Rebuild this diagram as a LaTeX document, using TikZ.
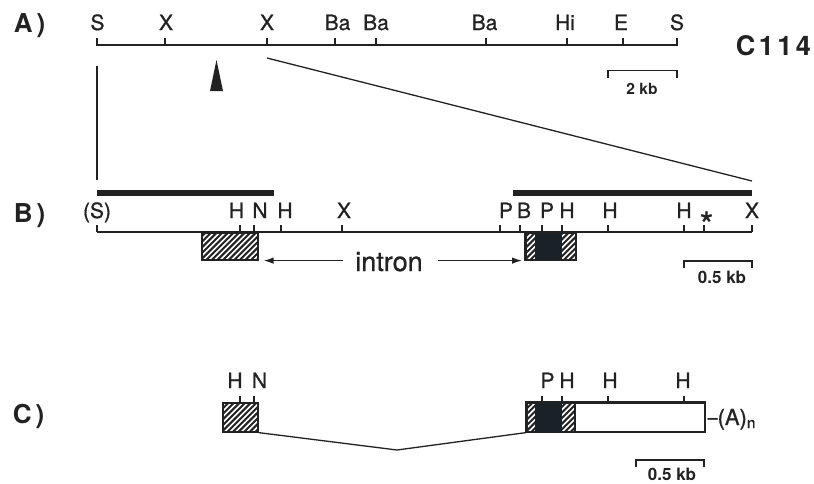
\documentclass[tikz,border=0pt]{standalone}
\usepackage{fontspec}
\setmainfont{TeX Gyre Heros}
\newfontfamily\lblfont{TeX Gyre Heros}[FakeBold=0.8,Ligatures=TeX]
\usetikzlibrary{arrows.meta}
\definecolor{ink}{HTML}{222222}
\definecolor{exonink}{HTML}{1B2227}
% hatched rectangle: #1,#2 = upper-left x,y ; #3,#4 = lower-right x,y
\newcommand{\hatchrect}[4]{%
  \begin{scope}
    \clip (#1,#2) rectangle (#3,#4);
    \foreach \k in {0,5.6,...,110}{
      \draw[hatchline] (#1-35+\k,#4+2) -- ++(36,-36);
    }
  \end{scope}}
\begin{document}
\begin{tikzpicture}[x=1pt,y=-1pt,line width=1.6pt,draw=ink,
  rlbl/.style={font=\lblfont\fontsize{21}{23}\selectfont, inner sep=0pt, anchor=base, text=ink},
  plbl/.style={font=\fontsize{26}{28}\selectfont\bfseries, inner sep=0pt, anchor=base west, text=ink},
  kblbl/.style={font=\fontsize{17}{19}\selectfont\bfseries, inner sep=0pt, anchor=base, text=ink},
  mapline/.style={line width=1.8pt},
  tickmark/.style={line width=1.6pt},
  zoomline/.style={line width=1.3pt},
  bar/.style={line width=6pt, draw=ink},
  hatchline/.style={line width=2pt, draw=ink},
  exon/.style={draw=ink, line width=1.6pt, rectangle, inner sep=0pt, anchor=north west},
  arr/.style={line width=1.3pt, -{Latex[length=10pt,width=6.5pt]}},
]
\useasboundingbox (0,0) rectangle (814,483);

% ---------------- Panel A ----------------
\node[plbl] (pA) at (13,32) {A\kern4pt)};
\coordinate (As) at (97,45);
\coordinate (Ae) at (677,45);
\draw[mapline] (As) -- (Ae);
\foreach \x in {97,165,267,335,376,486,567,623,677}{
  \draw[tickmark] (\x,45.5) -- (\x,38);
}
\foreach \x/\t [count=\i] in {97.5/S,166/X,267/X,337.5/Ba,376/Ba,484.5/Ba,565/Hi,621/E,677/S}{
  \node[rlbl] (a\i) at (\x,30) {\t};
}
\node[plbl, font=\fontsize{27}{29}\selectfont\bfseries] (c114) at (735,55) {C\kern3.5pt1\kern3.5pt1\kern3.5pt4};
% scale bar 2 kb
\coordinate (sa1) at (608,70.5);
\coordinate (sa2) at (677,70.5);
\draw[tickmark] ([yshift=-7pt]sa1) -- (sa1) -- (sa2) -- ([yshift=-7pt]sa2);
\node[kblbl, font=\fontsize{15.5}{17}\selectfont\bfseries] (kbA) at (642,94) {2 kb};
% arrowhead marker
\fill[ink] (210,91) -- (216.5,60) -- (223,91) -- cycle;
% zoom lines
\coordinate (zl1) at (97,66);
\coordinate (zl2) at (97,180);
\coordinate (zr1) at (267,58);
\coordinate (zr2) at (752,181);
\draw[zoomline] (zl1) -- (zl2);
\draw[zoomline] (zr1) -- (zr2);

% ---------------- Panel B ----------------
\node[plbl] (pB) at (13,222) {B\kern4pt)};
\draw[bar] (97,193) -- (274,193);
\draw[bar] (513,193) -- (752,193);
\coordinate (Bs) at (97,232);
\coordinate (Be) at (752,232);
\draw[mapline] (Bs) -- (Be);
\foreach \x in {97,240,254,281,342,500,520,542,562,608,684,704,752}{
  \draw[tickmark] (\x,232) -- (\x,225);
}
\foreach \x/\t [count=\i] in {97/(S),236.5/H,260/N,285/H,344/X,506/P,524/B,547/P,567/H,610/H,684/H,752/X}{
  \node[rlbl] (b\i) at (\x,218) {\t};
}
\node[rlbl, font=\fontsize{34}{34}\selectfont\bfseries] (star) at (707,236) {*};
% exons
\hatchrect{201}{232}{257}{259}
\node[exon, minimum width=56pt, minimum height=27pt] (ex1) at (201,232) {};
\hatchrect{525}{232}{575}{259}
\node[exon, minimum width=50pt, minimum height=27pt] (ex2) at (525,232) {};
\fill[exonink] ([xshift=10pt]ex2.north west) rectangle ([xshift=37pt]ex2.south west);
\draw[line width=1.6pt] (ex2.north west) rectangle (ex2.south east);
% intron label and arrows
\node[inner sep=0pt, anchor=base, font=\lblfont\fontsize{27}{29}\selectfont, text=ink] (intron) at (389,271) {intron};
\draw[arr] ([xshift=-12pt]intron.west |- ex1.south east) -- ([xshift=5pt]ex1.south east);
\draw[arr] ([xshift=14pt]intron.east |- ex2.south west) -- ([xshift=-3pt]ex2.south west);
% scale bar 0.5 kb
\coordinate (sb1) at (684,261);
\coordinate (sb2) at (752,261);
\draw[tickmark] ([yshift=-7pt]sb1) -- (sb1) -- (sb2) -- ([yshift=-7pt]sb2);
\node[kblbl] (kbB) at (722,283) {0.5 kb};

% ---------------- Panel C ----------------
\node[plbl] (pC) at (12,423) {C\kern4pt)};
\hatchrect{222}{402}{257}{431}
\node[exon, minimum width=35pt, minimum height=29pt] (cx1) at (222,402) {};
\hatchrect{526}{402}{575}{431}
\node[exon, minimum width=178pt, minimum height=29pt] (cx2) at (526,402) {};
\fill[exonink] ([xshift=9pt]cx2.north west) rectangle ([xshift=36pt]cx2.south west);
\draw[line width=1.6pt] (cx2.north west) rectangle (cx2.south east);
\draw[line width=1.6pt] ([xshift=49pt]cx2.north west) -- ([xshift=49pt]cx2.south west);
\foreach \x in {240,254,542,562,608,684}{
  \draw[tickmark] (\x,402) -- (\x,395.5);
}
\foreach \x/\t [count=\i] in {235/H,259.5/N,547.5/P,567/H,610/H,683/H}{
  \node[rlbl] (c\i) at (\x,388) {\t};
}
\coordinate (vpt) at (397,450);
\draw[zoomline] (cx1.south east) -- (vpt) -- (cx2.south west);
\node[inner sep=0pt, anchor=base west, font=\lblfont\fontsize{22}{24}\selectfont, text=ink] (polyA) at (707,425) {\scalebox{0.8}[1]{\textendash}(A)\textsubscript{n}};
% scale bar 0.5 kb
\coordinate (sc1) at (636,460);
\coordinate (sc2) at (704,460);
\draw[tickmark] ([yshift=-7pt]sc1) -- (sc1) -- (sc2) -- ([yshift=-7pt]sc2);
\node[kblbl] (kbC) at (672,480.5) {0.5 kb};
\end{tikzpicture}
\end{document}
